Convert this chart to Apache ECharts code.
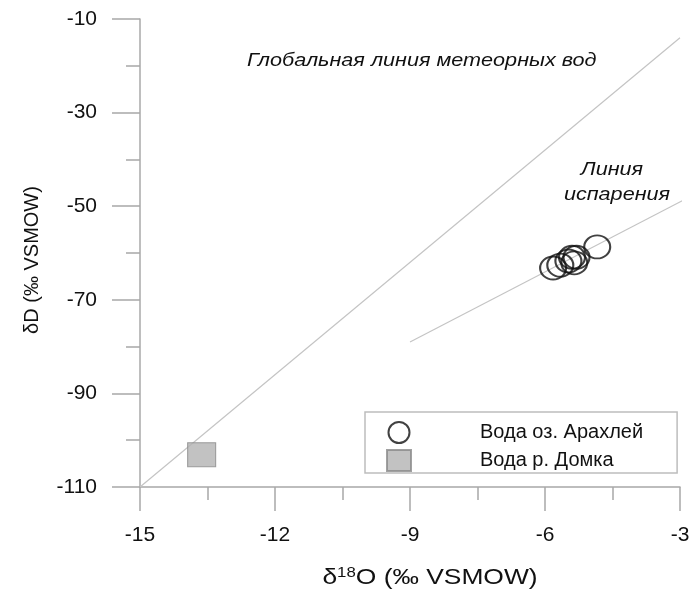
<!DOCTYPE html>
<html>
<head>
<meta charset="utf-8">
<script src="https://cdn.jsdelivr.net/npm/echarts@6/dist/echarts.min.js"></script>
<style>
  html, body { margin: 0; padding: 0; background: #fff; }
  #chart { width: 693px; height: 593px; }
</style>
</head>
<body>
<div id="chart"></div>
<script>
// Isotope composition of water samples: δ18O vs δD (‰ VSMOW)
const lakeO18 = [-5.82, -5.66, -5.48, -5.40, -5.30, -5.35, -4.84];
const lakeD   = [-63.2, -62.6, -61.7, -60.9, -60.9, -62.1, -58.7];

const riverO18 = [-13.63];
const riverD   = [-103.1];

// Global meteoric water line endpoints (δD = 8·δ18O + 10)
const gmwlO18 = [-15, -3];
const gmwlD   = [-110, -14];

// Evaporation line endpoints
const evapO18 = [-9.0, -2.7];
const evapD   = [-79.0, -47.6];

const xTicks = [-15, -12, -9, -6, -3];
const yTicks = [-110, -90, -70, -50, -30, -10];

const pairs = (xs, ys) => xs.map((x, i) => [x, ys[i]]);

const FONT = '"Liberation Sans", Arial, sans-serif';
const AXIS_COLOR = '#a8a8a8';
const WIDE = 1.2; // horizontal stretch of the annotation texts

const chart = echarts.init(document.getElementById('chart'));
chart.setOption({
  animation: false,
  backgroundColor: '#fff',
  textStyle: { fontFamily: FONT },
  grid: { left: 140, right: 13, top: 19, bottom: 106 },
  xAxis: {
    type: 'value',
    min: xTicks[0], max: xTicks[xTicks.length - 1], interval: 3,
    axisLine: { show: true, onZero: false, lineStyle: { color: AXIS_COLOR, width: 1.5 } },
    axisTick: { show: true, length: 24, lineStyle: { color: AXIS_COLOR, width: 1.5 } },
    minorTick: { show: true, splitNumber: 2, length: 13, lineStyle: { color: AXIS_COLOR, width: 1.5 } },
    splitLine: { show: false },
    axisLabel: { fontSize: 21, color: '#111', margin: 38, fontFamily: FONT }
  },
  yAxis: {
    type: 'value',
    min: yTicks[0], max: yTicks[yTicks.length - 1], interval: 20,
    axisLine: { show: true, onZero: false, lineStyle: { color: AXIS_COLOR, width: 1.5 } },
    axisTick: { show: true, length: 28, lineStyle: { color: AXIS_COLOR, width: 1.5 } },
    minorTick: { show: true, splitNumber: 2, length: 14, lineStyle: { color: AXIS_COLOR, width: 1.5 } },
    splitLine: { show: false },
    axisLabel: { fontSize: 21, color: '#111', margin: 43, fontFamily: FONT },
    name: 'δD (‰ VSMOW)',
    nameLocation: 'middle',
    nameGap: 98,
    nameTextStyle: { fontSize: 20, color: '#111', fontFamily: FONT, padding: [0, 14, 0, 0] }
  },
  legend: {
    orient: 'vertical',
    left: 365, top: 412,
    data: ['Вода оз. Арахлей', 'Вода р. Домка'],
    itemWidth: 24, itemHeight: 21, itemGap: 5,
    padding: [9, 34, 1, 21],
    borderColor: '#bdbdbd', borderWidth: 1.5,
    textStyle: { fontSize: 20, color: '#111', fontFamily: FONT, padding: [0, 0, 0, 64] }
  },
  graphic: [
    { type: 'text', x: 247, y: 61, scaleX: WIDE,
      style: { text: 'Глобальная линия метеорных вод', font: 'italic 18px ' + FONT,
               fill: '#111', align: 'left', verticalAlign: 'middle' } },
    { type: 'text', x: 612, y: 170, scaleX: WIDE,
      style: { text: 'Линия', font: 'italic 18px ' + FONT,
               fill: '#111', align: 'center', verticalAlign: 'middle' } },
    { type: 'text', x: 617, y: 195, scaleX: WIDE,
      style: { text: 'испарения', font: 'italic 18px ' + FONT,
               fill: '#111', align: 'center', verticalAlign: 'middle' } },
    { type: 'text', x: 430, y: 578, scaleX: WIDE,
      style: {
        text: '{d|δ}{s|18}{d|O (‰ VSMOW)}',
        align: 'center', verticalAlign: 'middle',
        rich: {
          d: { fontSize: 22, fill: '#111', fontFamily: FONT },
          s: { fontSize: 14, fill: '#111', fontFamily: FONT, verticalAlign: 'top', padding: [0, 0, 9, 0] }
        }
      } }
  ],
  series: [
    {
      name: 'ГЛМВ', type: 'line', data: pairs(gmwlO18, gmwlD),
      symbol: 'none', silent: true, z: 1,
      lineStyle: { color: '#c4c4c4', width: 1.2 }
    },
    {
      name: 'Линия испарения', type: 'line', data: pairs(evapO18, evapD),
      symbol: 'none', silent: true, clip: false, z: 1,
      lineStyle: { color: '#c4c4c4', width: 1.2 }
    },
    {
      name: 'Вода оз. Арахлей', type: 'scatter', data: pairs(lakeO18, lakeD),
      symbol: 'circle', symbolSize: [26, 23], z: 3,
      itemStyle: { color: 'rgba(255,255,255,0)', borderColor: '#111', borderWidth: 2 }
    },
    {
      name: 'Вода р. Домка', type: 'scatter', data: pairs(riverO18, riverD),
      symbol: 'rect', symbolSize: [28, 24], z: 3,
      itemStyle: { color: '#b3b3b3', borderColor: '#8a8a8a', borderWidth: 1 }
    }
  ]
});
</script>
</body>
</html>
